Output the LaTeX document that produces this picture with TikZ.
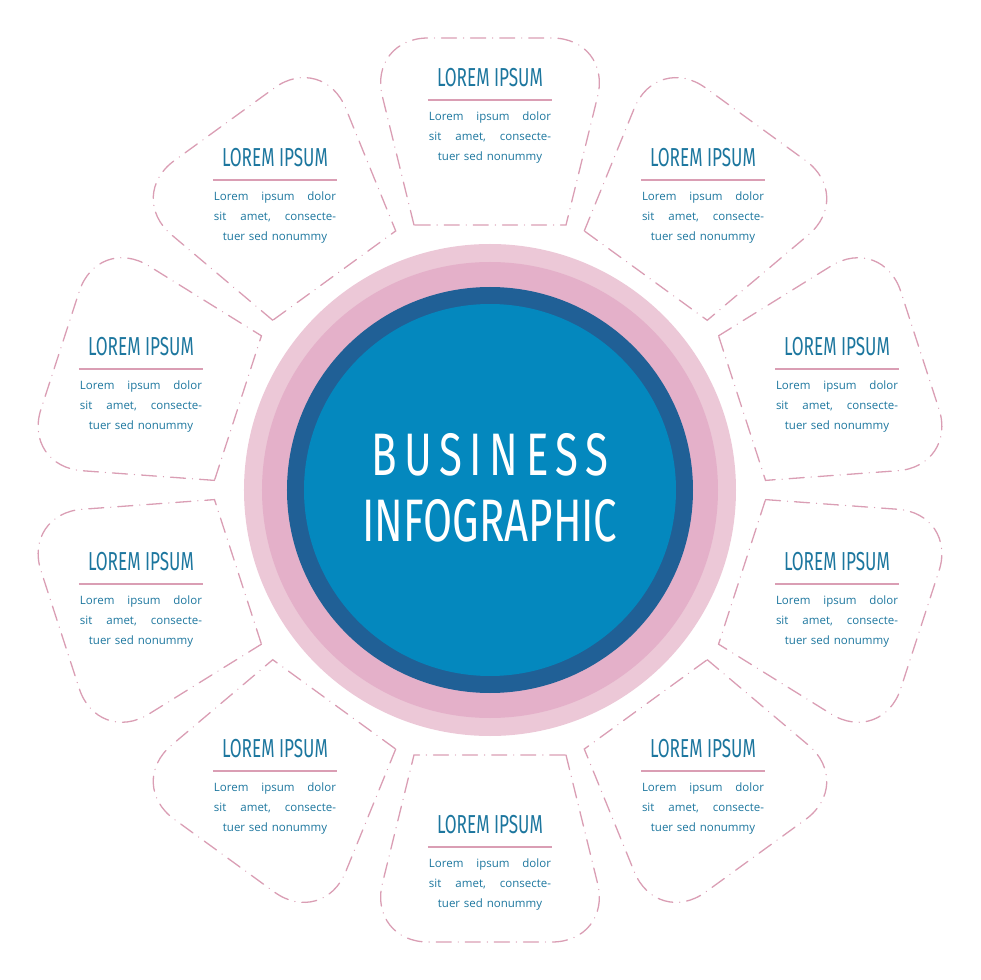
\documentclass[tikz,border=0pt]{standalone}
\usepackage{fontspec}
\setmainfont{Open Sans}
\newfontfamily\headfont{Fira Sans}
\definecolor{petalpink}{RGB}{218,158,180}
\definecolor{ringlight}{RGB}{236,200,215}
\definecolor{ringmid}{RGB}{228,176,201}
\definecolor{darkblue}{RGB}{32,96,150}
\definecolor{mainblue}{RGB}{4,136,190}
\definecolor{textblue}{RGB}{28,118,158}
\newcommand{\petalbody}{%
  \makebox[122pt]{Lorem\hfill ipsum\hfill dolor}\\
  \makebox[122pt]{sit\hfill amet,\hfill consecte-}\\
  tuer sed nonummy}
\begin{document}
\begin{tikzpicture}[
    x=1pt, y=1pt,
    PetalLine/.style={draw=petalpink, line width=1.3pt, line cap=round,
      dash pattern=on 15pt off 7pt on 0.1pt off 7pt},
    HeadText/.style={text=textblue, font=\headfont\fontsize{26}{26}\selectfont,
      inner sep=0pt, xscale=0.66},
    BodyText/.style={text=textblue, align=center, text width=124pt, inner sep=0pt,
      font=\fontsize{11.5}{20}\selectfont},
  ]
  \useasboundingbox (-490,-490) rectangle (490,490);
  % petals
  \foreach \ang in {90,126,...,414} {
    \begin{scope}[rotate=\ang-90]
      \path[PetalLine] (-76,265) [rounded corners=60]-- (-122,452) -- (122,452)
        [sharp corners]-- (76,265) -- cycle;
    \end{scope}
  }
  % centre disc
  \fill[ringlight] (0,0) circle (246);
  \fill[ringmid] (0,0) circle (228);
  \fill[darkblue] (0,0) circle (203);
  \fill[mainblue] (0,0) circle (186);
  \node[text=white, font=\headfont\fontsize{60}{66}\selectfont, align=center,
    xscale=0.7] (title) at (0,2)
    {\addfontfeatures{LetterSpace=18}BUSINESS\\INFOGRAPHIC};
  % petal texts
  \foreach \nm/\px/\py in {a/0/412, b/-215/332, c/213/332, d/-349/143, e/347/143,
      f/-349/-72, g/347/-72, h/-215/-259, i/213/-259, k/0/-335} {
    \node[HeadText] (h\nm) at (\px,\py) {LOREM IPSUM};
    \draw[petalpink, line width=2.5pt] (\px-62,\py-22) -- (\px+62,\py-22);
    \node[BodyText, anchor=north] (b\nm) at (\px,\py-34) {\petalbody};
  }
\end{tikzpicture}
\end{document}
